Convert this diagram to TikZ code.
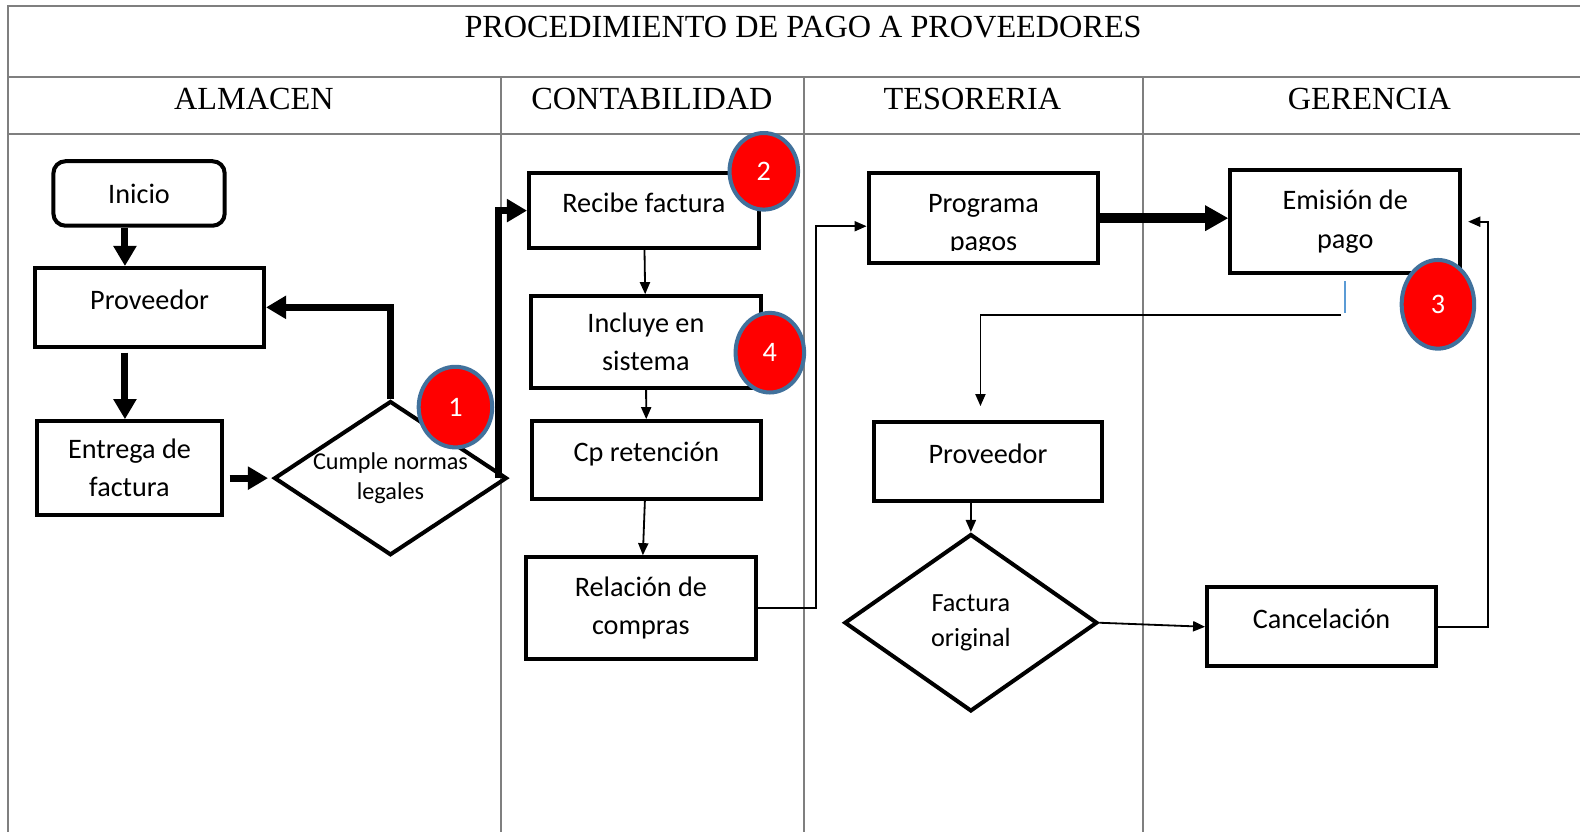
\documentclass[tikz,border=0pt]{standalone}
\usepackage{fontspec}
\setmainfont{Liberation Serif}
\newfontfamily\calibri{Carlito}
\usetikzlibrary{shapes.geometric,arrows.meta}
\definecolor{tablegray}{HTML}{7F7F7F}
\definecolor{badgeborder}{HTML}{41719C}
\definecolor{azul}{HTML}{5B9BD5}
\tikzset{
  tabla/.style={draw=tablegray,line width=1pt},
  paso/.style={draw,line width=2pt,align=center,font=\calibri\fontsize{14}{19}\selectfont},
  unalinea/.style={text depth=8pt},
  decision/.style={draw,diamond,line width=2pt,align=center,inner sep=-12pt},
  marca/.style={ellipse,draw=badgeborder,fill=red,line width=2pt,text=white,inner sep=0pt,
    font=\calibri\fontsize{14}{14}\selectfont},
  grueso/.style={line width=3.5pt,-{Triangle[length=10pt,width=11pt]}},
  muygrueso/.style={line width=5pt,-{Triangle[length=11.5pt,width=12pt]}},
  fino/.style={line width=0.9pt,-{Triangle[length=6pt,width=5pt]}}
}
\begin{document}
\begin{tikzpicture}[x=0.5pt,y=-0.5pt]
      \useasboundingbox (0,0) rectangle (1568,826);
      \draw[tabla] (1568,6) -- (8,6) -- (8,826);
      \draw[tabla] (8,76) -- (1568,76);
      \draw[tabla] (8,133) -- (1568,133);
      \foreach \x in {497,798,1134}
        \draw[tabla] (\x,76) -- (\x,826);
      \begin{scope}[font=\fontsize{16}{19}\selectfont]
        \draw
          (797,27) node (titulo){PROCEDIMIENTO DE PAGO A PROVEEDORES}
          (252,98) node (almacen){ALMACEN}
          (647,98) node (contab){CONTABILIDAD}
          (965,98) node (tesoreria){TESORERIA}
          (1359,98) node (gerencia){GERENCIA};
      \end{scope}
      \node[paso,rounded corners=6pt,minimum width=85pt,minimum height=32pt] (inicio) at (138,192) {Inicio};
      \node[paso,unalinea,minimum width=113.5pt,minimum height=39pt] (prov1) at (148.5,305) {Proveedor};
      \node[paso,minimum width=91.5pt,minimum height=46.5pt] (entrega) at (128.5,464.5) {Entrega de\\factura};
      \node[decision,minimum width=115.5pt,minimum height=76.5pt,
        font=\calibri\fontsize{12}{14.5}\selectfont] (cumple) at (387.5,474.5) {Cumple normas\\legales};
      \node[paso,unalinea,minimum width=114pt,minimum height=37pt] (recibe) at (639,209) {Recibe factura};
      \node[paso,minimum width=114pt,minimum height=45.5pt] (incluye) at (641,339.5) {Incluye en\\sistema};
      \node[paso,unalinea,minimum width=113.5pt,minimum height=38.5pt] (cpret) at (641.5,456.5) {Cp retención};
      \node[paso,minimum width=114pt,minimum height=50.5pt] (relacion) at (636,603.5) {Relación de\\compras};
      \node[paso,minimum width=114pt,minimum height=44.5pt] (programa) at (976,216.5) {};
      \begin{scope}
        \clip (862,172) rectangle (1090,249);
        \node[font=\calibri\fontsize{14}{19}\selectfont,align=center] (programaTxt) at (976,223) {Programa\\pagos};
      \end{scope}
      \node[paso,minimum width=114pt,minimum height=51pt] (emision) at (1335,220) {Emisión de\\pago};
      \node[paso,unalinea,minimum width=113.5pt,minimum height=39pt] (prov2) at (980.5,458) {Proveedor};
      \node[decision,minimum width=125.5pt,minimum height=88pt,
        font=\calibri\fontsize{13}{17}\selectfont] (factura) at (963.5,618) {Factura\\original};
      \node[paso,unalinea,minimum width=113.5pt,minimum height=39pt] (cancel) at (1311.5,622) {Cancelación};
      \node[marca,minimum width=36.5pt,minimum height=40pt] (m1) at (452,404) {1};
      \node[marca,minimum width=34pt,minimum height=38pt] (m2) at (758,170) {2};
      \node[marca,minimum width=36pt,minimum height=44pt] (m3) at (1427,302) {3};
      \node[marca,minimum width=34pt,minimum height=39.5pt] (m4) at (764,350) {4};
      \coordinate (ejeA) at (124,0);
      \coordinate (giro) at (1331,313);
      \begin{scope}[grueso]
        \draw (inicio.south -| ejeA) to (prov1.north -| ejeA);
        \draw ([yshift=-2pt]prov1.south -| ejeA) to (entrega.north -| ejeA);
        \draw ([xshift=3pt]entrega.east |- cumple.west) to ([xshift=-2pt]cumple.west);
        \draw (cumple.north) |- (prov1.east);
        \draw ([xshift=-5pt]cumple.east) |- (recibe.west);
      \end{scope}
      \draw[muygrueso] (programa.east) to (programa.east -| emision.west);
      \draw[azul,line width=0.8pt] ([yshift=-3pt]emision.south) -- ++(0,-16pt);
      \begin{scope}[fino]
        \draw (recibe) to (incluye);
        \draw (incluye) to (cpret);
        \draw (cpret) to (relacion);
        \draw (relacion.east) -- ++(29pt,0) |- ([yshift=-4pt]programa.west);
        \draw (giro) -| ([xshift=-3.75pt,yshift=7pt]prov2.north);
        \draw (prov2.south -| factura.north) to (factura.north);
        \draw (factura.east) to (cancel.west);
        \draw (cancel.east) -- ++(25pt,0) |- ([xshift=3pt]emision.east);
      \end{scope}
    \end{tikzpicture}
\end{document}
